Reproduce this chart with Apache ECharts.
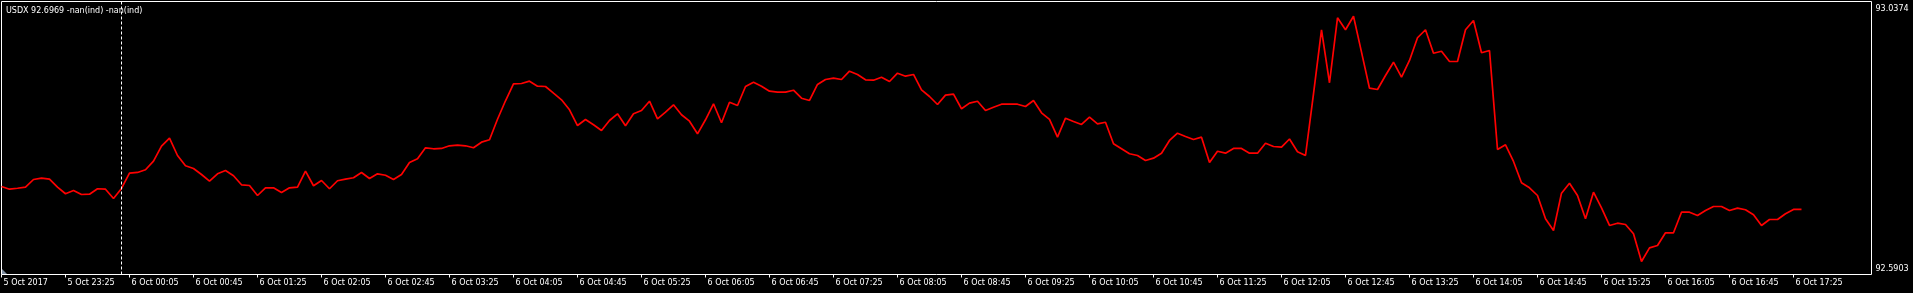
<!DOCTYPE html>
<html>
<head>
<meta charset="utf-8">
<style>
html,body{margin:0;padding:0;background:#000;}
#chart{width:1913px;height:293px;}
</style>
<script src="https://cdn.jsdelivr.net/npm/echarts@6/dist/echarts.min.js"></script>
</head>
<body>
<div id="chart"></div>
<script>
// USDX 5-minute closes, first bar 5 Oct 2017 22:45, last bar 6 Oct 17:30
const prices = [
92.7344,92.7300,92.7316,92.7333,92.7459,92.7480,92.7464,92.7333,92.7225,92.7279,
92.7213,92.7218,92.7307,92.7300,92.7148,92.7312,92.7562,92.7574,92.7618,92.7759,
92.8004,92.8135,92.7852,92.7683,92.7639,92.7541,92.7431,92.7552,92.7606,92.7520,
92.7372,92.7361,92.7197,92.7323,92.7323,92.7246,92.7323,92.7333,92.7595,92.7356,
92.7443,92.7307,92.7438,92.7464,92.7487,92.7574,92.7475,92.7552,92.7529,92.7459,
92.7541,92.7737,92.7798,92.7978,92.7962,92.7967,92.8011,92.8021,92.8011,92.7978,
92.8070,92.8109,92.8446,92.8748,92.9026,92.9031,92.9069,92.8987,92.8982,92.8872,
92.8764,92.8600,92.8343,92.8442,92.8355,92.8261,92.8425,92.8535,92.8338,92.8535,
92.8589,92.8741,92.8453,92.8561,92.8682,92.8519,92.8414,92.8207,92.8437,92.8699,
92.8388,92.8725,92.8671,92.8982,92.9052,92.8987,92.8905,92.8889,92.8889,92.8921,
92.8790,92.8753,92.9015,92.9097,92.9118,92.9097,92.9233,92.9179,92.9092,92.9085,
92.9134,92.9064,92.9200,92.9151,92.9179,92.8928,92.8818,92.8687,92.8840,92.8856,
92.8617,92.8709,92.8741,92.8589,92.8643,92.8692,92.8692,92.8692,92.8654,92.8753,
92.8551,92.8442,92.8152,92.8463,92.8409,92.8360,92.8479,92.8371,92.8397,92.8044,
92.7962,92.7880,92.7852,92.7770,92.7808,92.7890,92.8098,92.8217,92.8163,92.8114,
92.8152,92.7737,92.7922,92.7890,92.7967,92.7967,92.7890,92.7890,92.8053,92.7999,
92.7988,92.8122,92.7914,92.7852,92.8862,92.9911,92.9043,93.0107,92.9911,93.0133,
92.9544,92.8954,92.8933,92.9162,92.9380,92.9134,92.9408,92.9780,92.9911,92.9527,
92.9560,92.9391,92.9391,92.9911,93.0063,92.9534,92.9572,92.7950,92.8027,92.7754,
92.7405,92.7323,92.7197,92.6815,92.6624,92.7235,92.7398,92.7197,92.6815,92.7251,
92.6995,92.6706,92.6743,92.6722,92.6570,92.6116,92.6340,92.6378,92.6586,92.6586,
92.6923,92.6923,92.6869,92.6951,92.7017,92.7017,92.6951,92.6989,92.6963,92.6881,
92.6706,92.6804,92.6804,92.6897,92.6968,92.6969
];
// time labels, one every 8 bars (40 minutes), starting at bar 0
const timeLabels = [
"5 Oct 2017","5 Oct 23:25","6 Oct 00:05","6 Oct 00:45","6 Oct 01:25","6 Oct 02:05",
"6 Oct 02:45","6 Oct 03:25","6 Oct 04:05","6 Oct 04:45","6 Oct 05:25","6 Oct 06:05",
"6 Oct 06:45","6 Oct 07:25","6 Oct 08:05","6 Oct 08:45","6 Oct 09:25","6 Oct 10:05",
"6 Oct 10:45","6 Oct 11:25","6 Oct 12:05","6 Oct 12:45","6 Oct 13:25","6 Oct 14:05",
"6 Oct 14:45","6 Oct 15:25","6 Oct 16:05","6 Oct 16:45","6 Oct 17:25"
];
const priceLabels = [92.5903, 93.0374];
const separatorBar = [15];   // 6 Oct 00:00
const titleText = "USDX 92.6969 -nan(ind) -nan(ind)";

const BAR_STEP = 8;
const tickBars = timeLabels.map((_, k) => k * BAR_STEP);
const seriesData = prices.map((v, i) => [i, v]);
const FONT = 'DejaVu Sans';

const chart = echarts.init(document.getElementById('chart'), null, {renderer: 'canvas'});
chart.setOption({
  backgroundColor: '#000000',
  animation: false,
  title: {
    text: titleText,
    left: 6, top: 6,
    padding: 0,
    textStyle: {color: '#ffffff', fontSize: 8, fontFamily: FONT, fontWeight: 'normal', lineHeight: 10}
  },
  grid: {
    left: 1.5, top: 1.5, width: 1870, height: 273,
    outerBoundsMode: 'none',
    containLabel: false,
    show: true,
    backgroundColor: 'transparent',
    borderColor: '#ffffff', borderWidth: 1
  },
  xAxis: {
    type: 'value',
    min: 0, max: 233.75,
    interval: BAR_STEP,
    axisLine: {show: false},
    splitLine: {show: false},
    axisTick: {show: true, length: 3, customValues: tickBars, lineStyle: {color: '#ffffff', width: 1}},
    axisLabel: {
      show: true,
      customValues: tickBars,
      formatter: (v) => timeLabels[Math.round(v / BAR_STEP)] || '',
      color: '#ffffff', fontSize: 8, fontFamily: FONT,
      align: 'left', margin: 4, padding: [0, 0, 0, 2],
      hideOverlap: false
    }
  },
  yAxis: {
    type: 'value',
    position: 'right',
    min: priceLabels[0], max: priceLabels[1],
    scale: true,
    axisLine: {show: false},
    axisTick: {show: false},
    splitLine: {show: false},
    axisLabel: {
      show: true,
      customValues: priceLabels,
      margin: 4,
      formatter: (v) => v > (priceLabels[0] + priceLabels[1]) / 2
        ? '{t|' + v.toFixed(4) + '}' : '{b|' + v.toFixed(4) + '}',
      rich: {
        t: {color: '#ffffff', fontSize: 8, fontFamily: FONT, padding: [14, 0, 0, 0]},
        b: {color: '#ffffff', fontSize: 8, fontFamily: FONT, padding: [0, 0, 12, 0]}
      }
    }
  },
  graphic: [{
    type: 'polygon',
    shape: {points: [[2, 269], [2, 274], [7, 274]]},
    style: {fill: '#7f8ea0'},
    silent: true
  }],
  series: [{
    type: 'line',
    data: seriesData,
    showSymbol: false,
    symbol: 'none',
    lineStyle: {color: '#ff0000', width: 1.7},
    markLine: {
      silent: true,
      symbol: ['none', 'none'],
      label: {show: false},
      lineStyle: {color: '#ffffff', type: [3, 2], width: 1},
      data: separatorBar.map(b => ({xAxis: b}))
    }
  }]
});
</script>
</body>
</html>
